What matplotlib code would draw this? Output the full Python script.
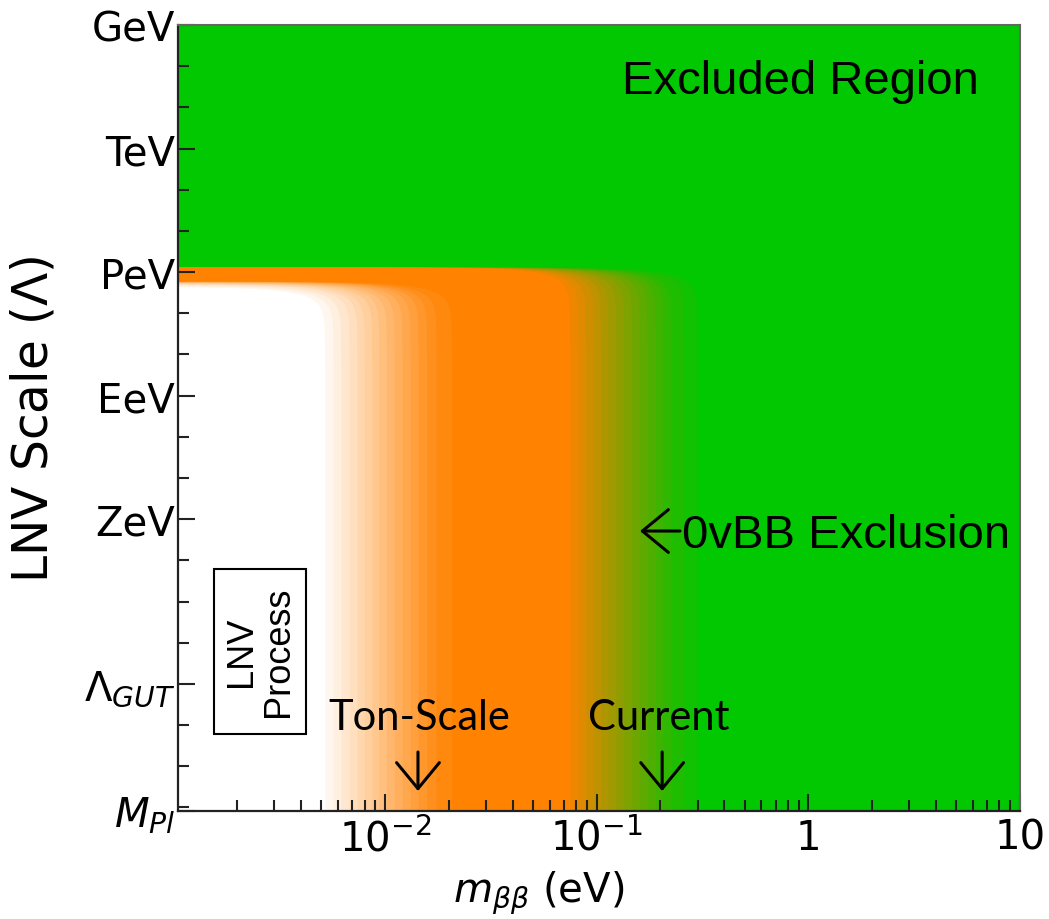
import numpy as np
import matplotlib
matplotlib.use("Agg")
import matplotlib.pyplot as plt
from matplotlib.ticker import FixedLocator, LogLocator, NullFormatter
from matplotlib.patches import Rectangle

# ---------------- data ----------------
# axis ranges
x_range = [1.05e-3, 10.0]            # m_bb (eV)
y_range = [1.0, 1.22e19]             # LNV scale (GeV), GeV ... M_Pl

# y tick positions (GeV) and labels
y_tick_vals = [1.0, 1e3, 1e6, 1e9, 1e12, 1e16, 1.22e19]
y_tick_labels = ["GeV", "TeV", "PeV", "EeV", "ZeV", r"$\Lambda_{GUT}$", r"$M_{Pl}$"]

# x tick positions and labels
x_tick_vals = [0.01, 0.1, 1.0, 10.0]
x_tick_labels = [r"$10^{-2}$", r"$10^{-1}$", "1", "10"]

# ton-scale sensitivity samples (orange): m_bb reach (eV) and Lambda reach (GeV)
ton_mbb = [0.0052, 0.0057, 0.0062, 0.0068, 0.0074, 0.0080, 0.0087, 0.0094,
           0.0102, 0.0111, 0.0121, 0.0132, 0.0144, 0.0158, 0.0175, 0.0207]
ton_lam = [2.3e6, 2.2e6, 2.1e6, 2.0e6, 1.95e6, 1.9e6, 1.85e6, 1.8e6,
           1.8e6, 1.75e6, 1.75e6, 1.7e6, 1.7e6, 1.7e6, 1.7e6, 1.7e6]

# current exclusion samples (green): m_bb limit (eV) and Lambda limit (GeV)
cur_mbb = [0.075, 0.082, 0.089, 0.097, 0.105, 0.114, 0.124, 0.135,
           0.147, 0.160, 0.174, 0.190, 0.207, 0.225, 0.260, 0.300]
cur_lam = [7.5e5, 7.5e5, 7.5e5, 7.5e5, 7.5e5, 7.5e5, 7.5e5, 7.5e5,
           7.5e5, 7.5e5, 7.5e5, 7.5e5, 7.5e5, 7.5e5, 7.5e5, 7.5e5]

GREEN = "#02C802"
ORANGE = "#FF8200"

# ---------------- figure ----------------
fig = plt.figure(figsize=(10.49, 9.2), dpi=100)
ax = fig.add_axes([0.16969, 0.11739, 0.80267, 0.85435])
ax.set_xscale("log")
ax.set_yscale("log")
ax.set_xlim(x_range)
ax.set_ylim(y_range[1], y_range[0])   # inverted: GeV at top


def excluded_region(m_lim, lam_lim):
    """Polygon of region m > m_lim or Lambda < Lambda(m) with rounded corner."""
    x0, x1 = x_range
    ytop, ybot = y_range
    xs = np.geomspace(x0, m_lim * 0.99995, 500)
    r = np.clip(1.0 - (xs / m_lim) ** 2, 1e-30, None)
    lam = np.minimum(lam_lim / np.sqrt(r), ybot)
    px = np.concatenate([[x0], xs, [m_lim, x1, x1]])
    py = np.concatenate([[ytop], lam, [ybot, ybot, ytop]])
    return px, py


def draw_samples(mlist, llist, color):
    order = np.argsort(mlist)
    n = len(order)
    for k, idx in enumerate(order):
        px, py = excluded_region(mlist[idx], llist[idx])
        ax.fill(px, py, color=color, alpha=1.0 / (n - k), lw=0, zorder=1)


draw_samples(ton_mbb, ton_lam, ORANGE)
draw_samples(cur_mbb, cur_lam, GREEN)

# ---------------- ticks ----------------
ax.yaxis.set_major_locator(FixedLocator(y_tick_vals))
ax.set_yticklabels(y_tick_labels)
ax.yaxis.set_minor_locator(LogLocator(base=10, subs=(1.0,), numticks=40))
ax.yaxis.set_minor_formatter(NullFormatter())

ax.xaxis.set_major_locator(FixedLocator(x_tick_vals))
ax.set_xticklabels(x_tick_labels)
ax.xaxis.set_minor_locator(LogLocator(base=10, subs=np.arange(2, 10), numticks=40))
ax.xaxis.set_minor_formatter(NullFormatter())

ax.tick_params(which="both", direction="in", top=False, right=False, width=1.5,
               color="#222222", labelsize=29)
ax.tick_params(which="major", length=12)
ax.tick_params(which="minor", length=8)
ax.tick_params(axis="y", which="major", pad=2)
ax.tick_params(axis="x", which="major", pad=5)

for s in ["left", "bottom"]:
    ax.spines[s].set_linewidth(1.6)
    ax.spines[s].set_color("#222222")
for s in ["top", "right"]:
    ax.spines[s].set_linewidth(1.5)
    ax.spines[s].set_color("#666666")
for s in ax.spines.values():
    s.set_zorder(5)

# ---------------- labels ----------------
ax.set_ylabel(r"LNV Scale ($\Lambda$)", fontsize=35)
ax.yaxis.set_label_coords(-0.143, 0.5)
ax.set_xlabel(r"$m_{\beta\beta}$ (eV)", fontsize=29)
ax.xaxis.set_label_coords(0.4287, -0.0738)

# ---------------- annotations ----------------
sans = ["Liberation Sans", "DejaVu Sans"]
arrow_kw = dict(arrowstyle="->,head_length=0.85,head_width=0.7", lw=2.2,
                color="black", mutation_scale=22, shrinkA=0, shrinkB=0)

ax.text(0.527, 0.9135, "Excluded Region", transform=ax.transAxes, fontsize=34,
        family=sans, ha="left", va="baseline", zorder=6)
ax.text(0.5986, 0.3359, "0vBB Exclusion", transform=ax.transAxes, fontsize=34,
        family=sans, ha="left", va="baseline", zorder=6)
ax.annotate("", xy=(0.5487, 0.3562), xytext=(0.5962, 0.3562),
            xycoords="axes fraction", textcoords="axes fraction",
            arrowprops=arrow_kw, zorder=6)

cal = ["Lato", "DejaVu Sans"]
ax.text(0.178, 0.1043, "Ton-Scale", transform=ax.transAxes, fontsize=30,
        family=cal, ha="left", va="baseline", zorder=6)
ax.text(0.487, 0.1043, "Current", transform=ax.transAxes, fontsize=30,
        family=cal, ha="left", va="baseline", zorder=6)
for xa in (0.285, 0.575):
    ax.annotate("", xy=(xa, 0.0254), xytext=(xa, 0.0751), xycoords="axes fraction",
                textcoords="axes fraction", arrowprops=arrow_kw, zorder=6)

ax.add_patch(Rectangle((0.0428, 0.098), 0.109, 0.210, transform=ax.transAxes,
                       facecolor="white", edgecolor="black", lw=1.5, zorder=6))
ax.text(0.0974, 0.2036, "LNV\nProcess", transform=ax.transAxes, fontsize=26,
        family=sans, rotation=90, ha="center", va="center", multialignment="center",
        linespacing=1.05, zorder=7)

fig.savefig("out.png", dpi=100)
